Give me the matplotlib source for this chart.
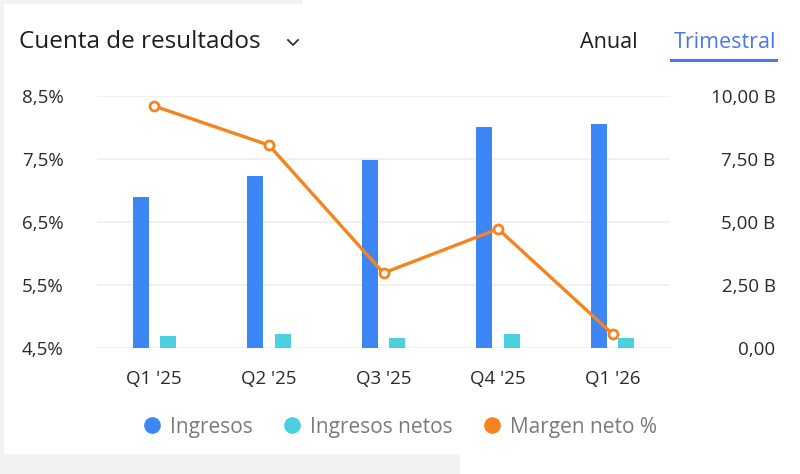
import matplotlib

matplotlib.use("Agg")
import matplotlib.pyplot as plt
import numpy as np
from matplotlib.lines import Line2D
from matplotlib.patches import Rectangle

plt.rcParams["font.family"] = ["Open Sans", "DejaVu Sans"]

# ── Data ───────────────────────────────────────────────────────────────────
quarters = ["Q1 '25", "Q2 '25", "Q3 '25", "Q4 '25", "Q1 '26"]
ingresos = [6.00, 6.83, 7.46, 8.77, 8.88]          # billions
ingresos_netos = [0.48, 0.56, 0.40, 0.55, 0.40]    # billions
margen_neto = [8.34, 7.72, 5.69, 6.39, 4.72]       # percent

pct_ticks = [4.5, 5.5, 6.5, 7.5, 8.5]
pct_labels = ["4,5%", "5,5%", "6,5%", "7,5%", "8,5%"]
val_ticks = [0, 2.5, 5, 7.5, 10]
val_labels = ["0,00", "2,50 B", "5,00 B", "7,50 B", "10,00 B"]

BLUE = "#3d86f6"
CYAN = "#4ccfdf"
ORANGE = "#f5841f"
GRID = "#efefef"
BG_GREY = "#f2f2f2"

W, H = 800, 474
fig = plt.figure(figsize=(W / 100, H / 100), dpi=100)
fig.patch.set_facecolor("white")


def px(x, y):
    """Pixel (top-left origin) -> figure fraction."""
    return x / W, 1 - y / H


# background strips of the screenshot
fig.patches.append(Rectangle((0, 1 - 4 / H), 303 / W, 4 / H, transform=fig.transFigure,
                             facecolor=BG_GREY, edgecolor="none", zorder=0))
fig.patches.append(Rectangle((0, 0), 460 / W, (H - 454) / H, transform=fig.transFigure,
                             facecolor=BG_GREY, edgecolor="none", zorder=0))
fig.patches.append(Rectangle((0, 0), 4 / W, 1, transform=fig.transFigure,
                             facecolor=BG_GREY, edgecolor="none", zorder=0))

# ── Axes ───────────────────────────────────────────────────────────────────
left, right, top, bottom = 97, 670, 96, 348
ax_pct = fig.add_axes([left / W, (H - bottom) / H, (right - left) / W, (bottom - top) / H])
ax_val = ax_pct.twinx()
ax_pct.set_zorder(2)
ax_pct.patch.set_visible(False)

x = np.arange(len(quarters))
bw = 0.14
off = 0.12

ax_val.bar(x - off, ingresos, width=bw, color=BLUE, zorder=3)
ax_val.bar(x + off, ingresos_netos, width=bw, color=CYAN, zorder=3)
ax_val.set_ylim(0, 10)
ax_val.set_yticks(val_ticks)
ax_val.set_yticklabels(val_labels)

ax_pct.plot(x, margen_neto, color=ORANGE, linewidth=2.4, marker="o", markersize=6.5,
            markerfacecolor="white", markeredgecolor=ORANGE, markeredgewidth=2, zorder=5)
ax_pct.set_ylim(4.5, 8.5)
ax_pct.set_xlim(-0.5, 4.5)
ax_pct.set_yticks(pct_ticks)
ax_pct.set_yticklabels(pct_labels)
ax_pct.set_xticks(x)
ax_pct.set_xticklabels(quarters)

for t in pct_ticks:
    ax_val.axhline((t - 4.5) / 4 * 10, color=GRID, linewidth=1.2, zorder=1)

for a in (ax_pct, ax_val):
    for s in a.spines.values():
        s.set_visible(False)

TICK_FS = 13.5
ax_pct.tick_params(axis="y", length=0, pad=24, labelsize=TICK_FS, labelcolor="#2a2a2a")
ax_pct.tick_params(axis="x", length=0, pad=16, labelsize=TICK_FS, labelcolor="#2a2a2a")
ax_val.tick_params(axis="y", length=0, pad=76, labelsize=TICK_FS, labelcolor="#2a2a2a")
for lab in ax_val.get_yticklabels():
    lab.set_horizontalalignment("right")

# ── Header ─────────────────────────────────────────────────────────────────
fig.text(*px(19, 42), "Cuenta de resultados", fontsize=17.5, color="#1e1e1e",
         ha="left", va="center")
fig.add_artist(Line2D([px(288, 40)[0], px(293, 45)[0], px(298, 40)[0]],
                      [px(288, 40)[1], px(293, 45)[1], px(298, 40)[1]],
                      transform=fig.transFigure, color="#333333", linewidth=1.3))
fig.text(*px(638, 42), "Anual", fontsize=15.5, color="#1e1e1e", ha="right", va="center")
fig.text(*px(776, 42), "Trimestral", fontsize=15.5, color="#4a78f0", ha="right", va="center")
fig.add_artist(Line2D([px(671, 60)[0], px(776, 60)[0]], [px(671, 60)[1], px(776, 60)[1]],
                      transform=fig.transFigure, color="#4a78f0", linewidth=2.2))

# ── Legend ─────────────────────────────────────────────────────────────────
handles = [
    Line2D([], [], linestyle="none", marker="o", markersize=11, color=c)
    for c in (BLUE, CYAN, ORANGE)
]
leg = fig.legend(handles, ["Ingresos", "Ingresos netos", "Margen neto %"],
                 loc="center", bbox_to_anchor=px(399, 427), ncol=3, frameon=False,
                 fontsize=15, handletextpad=0.35, columnspacing=1.4, handlelength=1.0)
for t in leg.get_texts():
    t.set_color("#7a7a7a")

fig.savefig("out.png", dpi=100)
